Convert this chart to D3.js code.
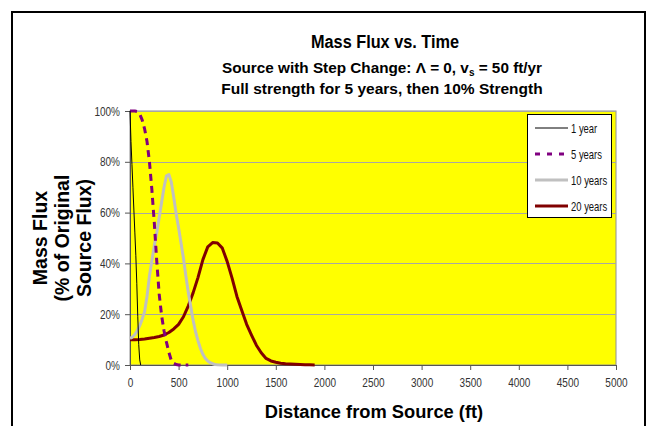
<!DOCTYPE html>
<html><head><meta charset="utf-8">
<script src="https://cdn.jsdelivr.net/npm/d3@7"></script>
<style>body{margin:0;background:#fff}svg{display:block}text{font-family:Arial,"Liberation Sans",sans-serif}</style>
</head><body><svg id="c" width="656" height="426"></svg>
<script>
const xTicks = [0,500,1000,1500,2000,2500,3000,3500,4000,4500,5000];
const yTicks = [0,20,40,60,80,100];
const seriesNames = ["1 year","5 years","10 years","20 years"];
const x1 = [0,10,20,30,40,50,60,70,80,90,100,110];
const y1 = [100,88,79,70,61,52,43,32,19,8,2,0];
const x5 = [0,25,50,75,100,125,150,175,200,225,250,275,300,325,350,375,400,425,450,475,500,550,600];
const y5 = [100,100,100,99.8,98.8,96.5,93,88,80,69,56,41,28,19.5,13.5,9,5,1.8,0.7,0.2,0,0,0];
const x10 = [0,25,50,75,100,125,150,175,200,225,250,275,300,325,350,375,400,425,450,475,500,525,550,575,600,625,650,675,700,725,750,775,800,825,850,875,900,950,1000];
const y10 = [10.5,11,12,13.5,15.5,18,21,27,35,41,47,52,58,64,70,74.5,75,72,66,59.5,54,48,42,35,28.5,23,17.5,13,9.5,6.5,4.2,2.6,1.6,0.9,0.5,0.2,0.1,0,0];
const x20 = [0,50,100,150,200,250,300,350,400,450,500,550,600,650,700,750,800,850,900,950,1000,1050,1100,1150,1200,1250,1300,1350,1400,1450,1500,1550,1600,1650,1700,1750,1800,1850,1900];
const y20 = [9.9,9.9,10,10.2,10.5,10.8,11.2,11.8,12.8,14.2,16,19,23.3,28.5,34.5,41.5,46.5,48.2,48,46,40.7,34.2,27,21.5,16,11.8,7.8,4.8,2.6,1.6,1.1,0.7,0.5,0.4,0.3,0.2,0.1,0.05,0];

const svg = d3.select("#c");
const L=130,R=616,T=111,B=365;
const x = d3.scaleLinear().domain([0,5000]).range([L,R]);
const y = d3.scaleLinear().domain([0,100]).range([B,T]);

function narrow(sel, k){ sel.each(function(){ const w=this.getComputedTextLength(); d3.select(this).attr("textLength",w*k).attr("lengthAdjust","spacingAndGlyphs"); }); }

// frame
svg.append("rect").attr("x",12).attr("y",12).attr("width",633).attr("height",420)
  .attr("fill","#fff").attr("stroke","#000").attr("stroke-width",2);

// plot area
svg.append("rect").attr("x",L).attr("y",T).attr("width",R-L).attr("height",B-T)
  .attr("fill","#ffff00").attr("stroke","#909090").attr("stroke-width",1);

// gridlines
svg.append("g").selectAll("line").data(yTicks.filter(d=>d>0)).join("line")
  .attr("x1",L).attr("x2",R).attr("y1",d=>Math.round(y(d))+0.5).attr("y2",d=>Math.round(y(d))+0.5)
  .attr("stroke","#a8a8a0").attr("stroke-width",1.2);

// axes
const xAxis = svg.append("g").attr("transform",`translate(0,${B})`)
  .call(d3.axisBottom(x).tickValues(xTicks).tickSize(5).tickSizeOuter(0).tickPadding(8).tickFormat(d3.format("d")));
const yAxis = svg.append("g").attr("transform",`translate(${L},0)`)
  .call(d3.axisLeft(y).tickValues(yTicks).tickSize(5).tickSizeOuter(0).tickPadding(5).tickFormat(d=>d+"%"));
[xAxis,yAxis].forEach(a=>{
  a.select(".domain").attr("stroke","#555");
  a.selectAll(".tick line").attr("stroke","#555");
  a.selectAll(".tick text").attr("font-size",13).attr("fill","#333")
    .attr("font-family","Arial, 'Liberation Sans', sans-serif");
  narrow(a.selectAll(".tick text"),0.77);
});

// series
const line = d3.line().x(d=>x(d[0])).y(d=>y(d[1]));
const series = [
  {name:seriesNames[0], xs:x1, ys:y1, color:"#000", w:1, dash:null},
  {name:seriesNames[1], xs:x5, ys:y5, color:"#800080", w:3, dash:"7,5"},
  {name:seriesNames[2], xs:x10, ys:y10, color:"#c0c0c0", w:3, dash:null},
  {name:seriesNames[3], xs:x20, ys:y20, color:"#800000", w:3, dash:null}
];
series.slice().reverse().forEach(s=>{
  svg.append("path").datum(s.xs.map((v,i)=>[v,s.ys[i]]))
    .attr("d",line).attr("fill","none").attr("stroke",s.color).attr("stroke-width",s.w)
    .attr("stroke-dasharray",s.dash).attr("stroke-linejoin","round");
});

// legend
const lg = svg.append("g");
lg.append("rect").attr("x",527.5).attr("y",114.5).attr("width",84).attr("height",103)
  .attr("fill","#fff").attr("stroke","#000").attr("stroke-width",1);
const ly = [128,154,180,206];
series.forEach((s,i)=>{
  lg.append("line").attr("x1",535).attr("x2",568).attr("y1",ly[i]).attr("y2",ly[i])
    .attr("stroke",s.color).attr("stroke-width",s.w).attr("stroke-dasharray",s.dash==null?null:"5,7");
  const t = lg.append("text").attr("x",571).attr("y",ly[i]+5).attr("font-size",13.5)
    .attr("fill","#111").text(s.name);
  narrow(t,0.7);
});

// titles
const tg = svg.append("g").attr("text-anchor","middle").attr("font-weight","bold").attr("fill","#000");
tg.append("text").attr("x",385).attr("y",48).attr("font-size",18)
  .attr("textLength",148).attr("lengthAdjust","spacingAndGlyphs").text("Mass Flux vs. Time");
const st = tg.append("text").attr("x",382).attr("y",73).attr("font-size",15.3);
st.append("tspan").text("Source with Step Change: \u039B = 0, v");
st.append("tspan").attr("font-size",10).attr("dy",3).text("s");
st.append("tspan").attr("dy",-3).text(" = 50 ft/yr");
tg.append("text").attr("x",382).attr("y",94).attr("font-size",15.5).text("Full strength for 5 years, then 10% Strength");
tg.append("text").attr("x",374).attr("y",418).attr("font-size",18.3).text("Distance from Source (ft)");
const yl = tg.append("text").attr("transform","translate(0,238) rotate(-90)").attr("font-size",19.5);
["Mass Flux","(% of Original","Source Flux)"].forEach((t,i)=>{
  yl.append("tspan").attr("x",0).attr("y",[47,69,91][i]).text(t);
});
</script></body></html>
